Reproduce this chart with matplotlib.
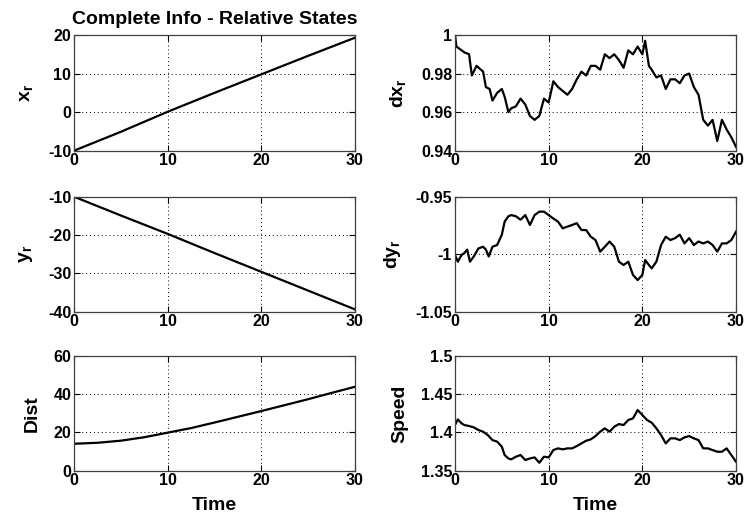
import matplotlib
matplotlib.use("Agg")
import matplotlib.pyplot as plt

plt.rcParams["font.family"] = ["Liberation Sans", "DejaVu Sans"]
plt.rcParams["font.weight"] = "bold"
plt.rcParams["mathtext.default"] = "regular"
plt.rcParams["axes.unicode_minus"] = False

# relative position (left column)
t_pos = [0, 5, 10, 15, 20, 25, 30]
x_r = [-10.0, -5.1, 0.1, 5.0, 9.8, 14.6, 19.3]
y_r = [-10.0, -14.9, -19.7, -24.7, -29.6, -34.5, -39.4]

t_dist = [0, 2.5, 5, 7.5, 10, 12.5, 15, 17.5, 20, 22.5, 25, 27.5, 30]
dist = [14.1, 14.6, 15.7, 17.5, 19.9, 22.3, 25.2, 28.2, 31.2, 34.3, 37.4, 40.7, 43.9]

# relative velocity (right column)
t_dx = [0, 0.15, 1, 1.5, 1.8, 2.3, 3, 3.3, 3.7, 4, 4.5, 5, 5.3, 5.7, 6, 6.5,
        7, 7.5, 8, 8.5, 9, 9.5, 10, 10.5, 11, 11.5, 12, 12.5, 13, 13.5, 14,
        14.5, 15, 15.5, 16, 16.5, 17, 17.5, 18, 18.5, 19, 19.5, 20, 20.3,
        20.7, 21, 21.5, 22, 22.5, 23, 23.5, 24, 24.5, 25, 25.5, 26, 26.5,
        27, 27.5, 28, 28.5, 29, 29.5, 30]
dx_r = [1.000, 0.994, 0.991, 0.990, 0.979, 0.984, 0.981, 0.973, 0.972, 0.966,
        0.970, 0.972, 0.968, 0.960, 0.962, 0.963, 0.967, 0.964, 0.958, 0.956,
        0.958, 0.967, 0.965, 0.976, 0.973, 0.971, 0.969, 0.972, 0.977, 0.981,
        0.979, 0.984, 0.984, 0.982, 0.990, 0.988, 0.990, 0.987, 0.983, 0.992,
        0.990, 0.994, 0.990, 0.997, 0.984, 0.982, 0.978, 0.979, 0.972, 0.977,
        0.977, 0.975, 0.979, 0.980, 0.973, 0.969, 0.956, 0.953, 0.956, 0.945,
        0.956, 0.951, 0.947, 0.942]

t_dy = [0, 0.3, 0.7, 1, 1.3, 1.6, 2, 2.5, 3, 3.3, 3.6, 4, 4.5, 5, 5.3, 5.7,
        6, 6.5, 7, 7.5, 8, 8.5, 9, 9.5, 10, 10.5, 11, 11.5, 12, 12.5, 13,
        13.5, 14, 14.5, 15, 15.5, 16, 16.5, 17, 17.5, 18, 18.5, 19, 19.5,
        20, 20.3, 20.7, 21, 21.5, 22, 22.5, 23, 23.5, 24, 24.5, 25, 25.5,
        26, 26.5, 27, 27.5, 28, 28.5, 29, 29.5, 30]
dy_r = [-1.0007, -1.0065, -1.0007, -0.999, -0.996, -1.0065, -1.002, -0.995,
        -0.9935, -0.996, -1.002, -0.9935, -0.992, -0.983, -0.9717, -0.967,
        -0.966, -0.967, -0.970, -0.966, -0.9746, -0.966, -0.963, -0.963,
        -0.966, -0.969, -0.9717, -0.9775, -0.976, -0.9746, -0.973, -0.979,
        -0.979, -0.9848, -0.9877, -0.9978, -0.9935, -0.989, -0.9935, -1.0065,
        -1.0094, -1.0065, -1.018, -1.0225, -1.018, -1.0051, -1.0094, -1.0123,
        -1.0065, -0.992, -0.9848, -0.9877, -0.986, -0.983, -0.9906, -0.986,
        -0.992, -0.989, -0.9906, -0.989, -0.992, -0.9978, -0.9906, -0.9906,
        -0.9877, -0.9804]

t_sp = [0, 0.3, 0.7, 1, 1.5, 2, 2.5, 3, 3.5, 4, 4.5, 5, 5.3, 5.7, 6, 6.5, 7,
        7.5, 8, 8.5, 9, 9.5, 10, 10.5, 11, 11.5, 12, 12.5, 13, 13.5, 14, 14.5,
        15, 15.5, 16, 16.5, 17, 17.5, 18, 18.5, 19, 19.5, 20, 20.5, 21, 21.5,
        22, 22.5, 23, 23.5, 24, 24.5, 25, 25.5, 26, 26.5, 27, 27.5, 28, 28.5,
        29, 29.5, 30]
speed = [1.4097, 1.4171, 1.4119, 1.4097, 1.4084, 1.4067, 1.4032, 1.401,
         1.3966, 1.390, 1.388, 1.3814, 1.3705, 1.366, 1.3648, 1.3683, 1.3705,
         1.364, 1.366, 1.3674, 1.3604, 1.3683, 1.3674, 1.377, 1.3792, 1.3779,
         1.3792, 1.3792, 1.3822, 1.3857, 1.3892, 1.391, 1.3953, 1.401, 1.4054,
         1.401, 1.4075, 1.411, 1.4097, 1.4163, 1.4184, 1.4293, 1.4228, 1.4163,
         1.4128, 1.4054, 1.3966, 1.3857, 1.3923, 1.3923, 1.390, 1.3936, 1.3953,
         1.3923, 1.390, 1.3792, 1.3792, 1.377, 1.3748, 1.3748, 1.3792, 1.3705,
         1.3618]

x_ticks = [0, 10, 20, 30]

W, H = 747, 519
fig = plt.figure(figsize=(W / 100, H / 100), dpi=100)


def make_ax(left_px, top_px, bottom_px):
    return fig.add_axes([left_px / W, 1 - bottom_px / H,
                         281 / W, (bottom_px - top_px) / H])


panels = [
    (74, 35, 150.7, t_pos, x_r, (-10, 20), [-10, 0, 10, 20], ["-10", "0", "10", "20"], "x$_r$"),
    (74, 196.7, 311.7, t_pos, y_r, (-40, -10), [-40, -30, -20, -10], ["-40", "-30", "-20", "-10"], "y$_r$"),
    (74, 356, 470.7, t_dist, dist, (0, 60), [0, 20, 40, 60], ["0", "20", "40", "60"], "Dist"),
    (455, 35, 150.7, t_dx, dx_r, (0.94, 1.0), [0.94, 0.96, 0.98, 1.0], ["0.94", "0.96", "0.98", "1"], "dx$_r$"),
    (455, 196.7, 311.7, t_dy, dy_r, (-1.05, -0.95), [-1.05, -1.0, -0.95], ["-1.05", "-1", "-0.95"], "dy$_r$"),
    (455, 356, 470.7, t_sp, speed, (1.35, 1.5), [1.35, 1.4, 1.45, 1.5], ["1.35", "1.4", "1.45", "1.5"], "Speed"),
]

axes = []
for left, top, bottom, tt, vals, ylim, yt, ytl, lab in panels:
    ax = make_ax(left, top, bottom)
    ax.plot(tt, vals, color="black", lw=1.6)
    ax.set_xlim(0, 30)
    ax.set_ylim(*ylim)
    ax.set_xticks(x_ticks)
    ax.set_xticklabels([str(v) for v in x_ticks])
    ax.set_yticks(yt)
    ax.set_yticklabels(ytl)
    ax.grid(True, color="black", linestyle=(0, (1, 3)), lw=0.7)
    ax.tick_params(direction="in", length=4, width=0.8, labelsize=11.5,
                   top=True, right=True, pad=2)
    for s in ax.spines.values():
        s.set_color("#404040")
        s.set_linewidth(0.9)
    ax.set_ylabel(lab, fontsize=14, fontweight="bold", labelpad=9)
    axes.append(ax)

axes[0].set_title("Complete Info - Relative States", fontsize=14, fontweight="bold", pad=8)
axes[2].set_xlabel("Time", fontsize=14, fontweight="bold", labelpad=6)
axes[5].set_xlabel("Time", fontsize=14, fontweight="bold", labelpad=6)

fig.savefig("out.png", dpi=100)
